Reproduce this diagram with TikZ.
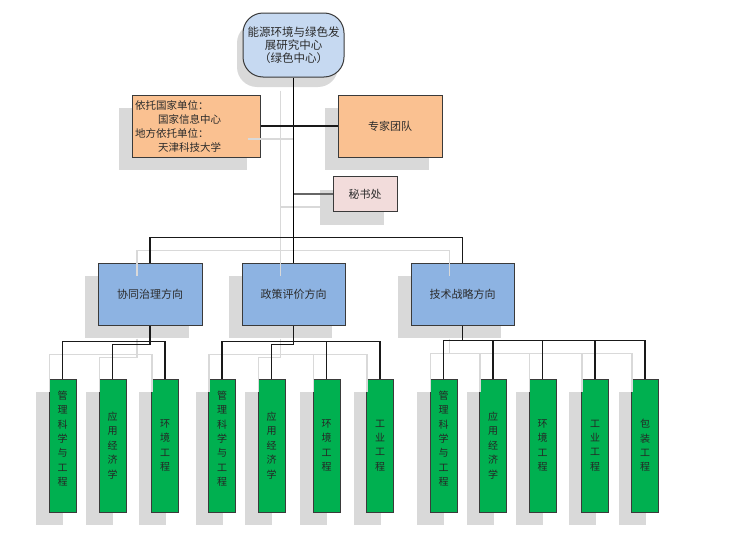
\documentclass[tikz,border=0pt]{standalone}
\usepackage{fontspec}
\newfontfamily\cjk{Noto Sans CJK SC}
\usetikzlibrary{shadows}
\definecolor{shadowgray}{HTML}{D9D9D9}
\definecolor{topblue}{HTML}{C6D9F1}
\definecolor{orangefill}{HTML}{FAC191}
\definecolor{pinkfill}{HTML}{F2DCDB}
\definecolor{dirblue}{HTML}{8DB3E2}
\definecolor{leafgreen}{HTML}{00B050}
\definecolor{edgegray}{HTML}{3A3A3A}
\definecolor{txt}{HTML}{2B2B2B}
\newcommand\treeconns{%
  \draw[connthick] (top.south) -- (dir2.north);
  \draw[conn] (dir1.north) -- ++(0,-25) -| (dir3.north);
  \draw[connsec] (sec.west) -- (sec.west -| top.south);
  % group 1
  \draw[conn] (dir1.south) -- ++(0,16) coordinate (g1);
  \draw[conn] (l1.north) |- (g1) -| (l3.north);
  \draw[conn] (l2.north) -- ++(0,-34) -| (dir1.south);
  % group 2
  \draw[connthick] (dir2.south) -- ++(0,16) coordinate (g2);
  \draw[conn] (l4.north) |- (g2) -| (l7.north);
  \draw[conn] (l6.north) -- (l6.north |- g2);
  \draw[conn] (l5.north) -- ++(0,-34) -| (dir2.south);
  % group 3
  \draw[conn] (dir3.south) -- ++(0,15) coordinate (g3);
  \draw[conn] (l8.north) |- (g3) -| (l12.north);
  \draw[conn] (l9.north) -- (l9.north |- g3);
  \draw[conn] (l10.north) -- (l10.north |- g3);
  \draw[conn] (l11.north) -- (l11.north |- g3);
}
\begin{document}
\begin{tikzpicture}[x=1pt,y=-1pt,
  box/.style={draw=edgegray,line width=1pt,text=txt,inner sep=2pt,
    drop shadow={shadow xshift=-13pt,shadow yshift=-13pt,fill=shadowgray,opacity=1}},
  dirbox/.style={box,fill=dirblue,minimum width=103pt,minimum height=62pt,
    font=\cjk\fontsize{11}{13}\selectfont},
  leaf/.style={box,fill=leafgreen,minimum width=27pt,minimum height=133pt,
    inner sep=0pt,align=center,text=black!85,font=\cjk\fontsize{10}{14.4}\selectfont},
  conn/.style={draw=black!90,line width=1.1pt},
  connthick/.style={draw=black,line width=1.8pt},
  connsec/.style={draw=black!60,line width=1.4pt},
  ghost/.style={draw=shadowgray,line width=1.2pt}]
\useasboundingbox (0,0) rectangle (741,546);

\node[draw=edgegray,line width=1pt,text=txt,inner sep=2pt,
  drop shadow={shadow xshift=-6pt,shadow yshift=-10pt,fill=shadowgray,opacity=1},
  rounded corners=20pt,fill=topblue,minimum width=101pt,minimum height=64pt,
  align=center,font=\cjk\fontsize{11.5}{12.8}\selectfont] (top) at (293.5,45)
  {能源环境与绿色发\\展研究中心\\（绿色中心）};
\node[box,fill=orangefill,minimum width=128pt,minimum height=62pt,text width=122pt,
  align=left,font=\cjk\fontsize{10.5}{14}\selectfont] (host) at (196,126)
  {依托国家单位：\\\hspace*{2.2em}国家信息中心\\地方依托单位：\\\hspace*{2.2em}天津科技大学};
\node[box,fill=orangefill,minimum width=104pt,minimum height=62pt,
  font=\cjk\fontsize{11}{13}\selectfont] (expert) at (390,126) {专家团队};
\node[box,fill=pinkfill,minimum width=64pt,minimum height=35pt,
  font=\cjk\fontsize{11}{13}\selectfont] (sec) at (365,194) {秘书处};

\node[dirbox,minimum width=104pt] (dir1) at (150,294) {协同治理方向};
\node[dirbox] (dir2) at (293.5,294) {政策评价方向};
\node[dirbox] (dir3) at (462.5,294) {技术战略方向};

\node[leaf] (l1) at (62.5,445.5) {管\\理\\科\\学\\与\\工\\程\\ };
\node[leaf] (l2) at (112.5,445.5) {应\\用\\经\\济\\学};
\node[leaf] (l3) at (165,445.5) {环\\境\\工\\程};
\node[leaf] (l4) at (222,445.5) {管\\理\\科\\学\\与\\工\\程\\ };
\node[leaf] (l5) at (271.5,445.5) {应\\用\\经\\济\\学};
\node[leaf] (l6) at (326.5,445.5) {环\\境\\工\\程};
\node[leaf] (l7) at (380,445.5) {工\\业\\工\\程};
\node[leaf] (l8) at (443.5,445.5) {管\\理\\科\\学\\与\\工\\程\\ };
\node[leaf] (l9) at (493,445.5) {应\\用\\经\\济\\学};
\node[leaf] (l10) at (542.5,445.5) {环\\境\\工\\程};
\node[leaf] (l11) at (595,445.5) {工\\业\\工\\程};
\node[leaf] (l12) at (645,445.5) {包\\装\\工\\程};

% shadow copies of the connectors
\begin{scope}[transform canvas={shift={(-13pt,-13pt)}},
  conn/.style={ghost},connthick/.style={ghost},connsec/.style={ghost}]
  \treeconns
\end{scope}
\draw[ghost] ([shift={(-13,13)}]host.east) -- ([shift={(0,13)}]host.east -| top.south);

% connectors
\treeconns
\draw[conn] (host.east) -- (expert.west);
\end{tikzpicture}
\end{document}
